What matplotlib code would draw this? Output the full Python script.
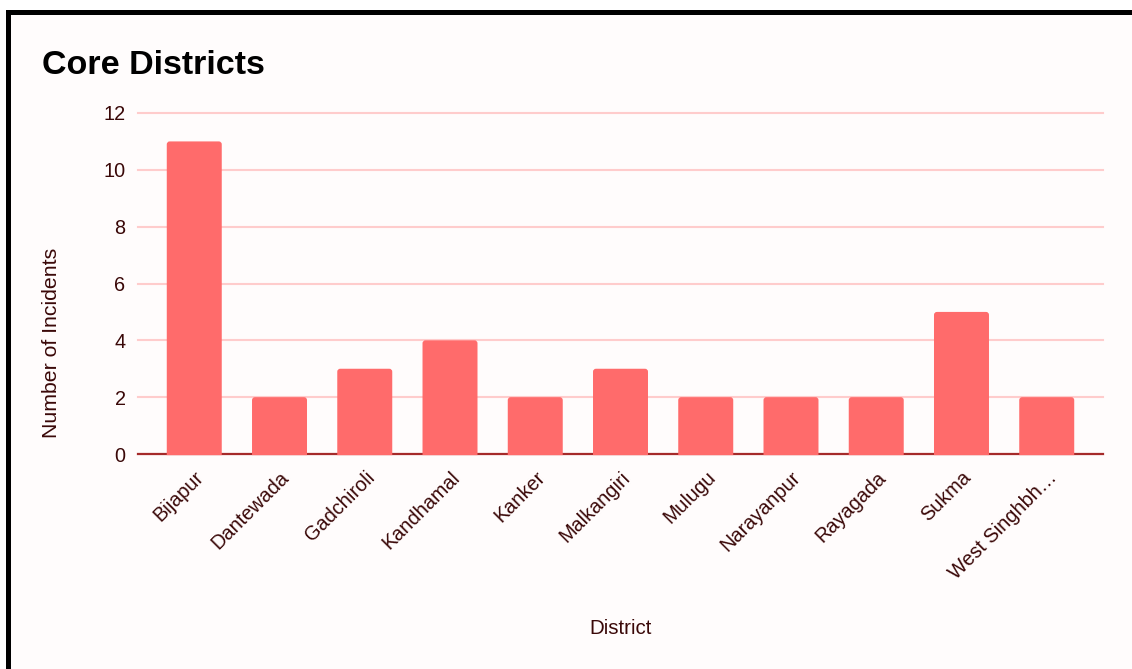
import matplotlib
matplotlib.use('Agg')
import matplotlib.pyplot as plt
from matplotlib.patches import Rectangle, PathPatch
from matplotlib.path import Path

# Data
districts = ['Bijapur', 'Dantewada', 'Gadchiroli', 'Kandhamal', 'Kanker', 'Malkangiri',
             'Mulugu', 'Narayanpur', 'Rayagada', 'Sukma', 'West Singhbh…']
incidents = [11, 2, 3, 4, 2, 3, 2, 2, 2, 5, 2]
y_ticks = [0, 2, 4, 6, 8, 10, 12]

plt.rcParams['font.family'] = ['Liberation Sans', 'DejaVu Sans']
text_color = '#3a0808'
bar_color = '#ff6b6b'
bg = '#fffcfc'

fig = plt.figure(figsize=(11.32, 6.69), dpi=100)
fig.patch.set_facecolor('white')

# Frame background and black border (top and left)
W, H = 1132, 669
fig.patches.append(Rectangle((6 / W, 0), 1 - 6 / W, (H - 10) / H, transform=fig.transFigure,
                             facecolor=bg, edgecolor='none', zorder=-2))
fig.patches.append(Rectangle((6 / W, (H - 15) / H), 1 - 6 / W, 5 / H, transform=fig.transFigure,
                             facecolor='black', edgecolor='none', zorder=-1))
fig.patches.append(Rectangle((6 / W, 0), 5 / W, (H - 10) / H, transform=fig.transFigure,
                             facecolor='black', edgecolor='none', zorder=-1))

ax = fig.add_axes([138 / W, 1 - 454 / H, (1103 - 138) / W, (454 - 113) / H])
ax.set_zorder(2)
ax.set_facecolor('none')

x = list(range(len(districts)))
bars = ax.bar(x, incidents, width=0.645, color=bar_color, zorder=3)

# redraw bars with slightly rounded top corners
rx = 0.035
ry = rx * 3.0
for b in bars:
    b.set_visible(False)
    x0, w, h = b.get_x(), b.get_width(), b.get_height()
    x1 = x0 + w
    verts = [(x0, -0.04), (x0, h - ry), (x0, h), (x0 + rx, h), (x1 - rx, h),
             (x1, h), (x1, h - ry), (x1, -0.04), (x0, -0.04)]
    codes = [Path.MOVETO, Path.LINETO, Path.CURVE3, Path.CURVE3, Path.LINETO,
             Path.CURVE3, Path.CURVE3, Path.LINETO, Path.CLOSEPOLY]
    ax.add_patch(PathPatch(Path(verts, codes), facecolor=bar_color,
                           edgecolor='none', zorder=3, clip_on=False))

ax.set_xlim(-0.66, len(districts) - 1 + 0.66)
ax.set_ylim(0, 12)
ax.set_yticks(y_ticks)
ax.set_yticklabels([str(v) for v in y_ticks])
ax.yaxis.grid(True, color='#ffcccc', linewidth=1.5, zorder=0)
for gl in ax.get_ygridlines():
    gl.set_clip_on(False)
ax.set_axisbelow(True)
ax.axhline(0, color='#a52a2a', linewidth=1.6, zorder=2, clip_on=False)

for s in ax.spines.values():
    s.set_visible(False)
ax.tick_params(axis='both', length=0, labelsize=14.3, colors=text_color)
ax.tick_params(axis='y', pad=9)
ax.set_xticks(x)
ax.set_xticklabels(districts, rotation=45, ha='right', rotation_mode='anchor')
ax.tick_params(axis='x', pad=10)

fig.text(52 / W, 1 - 343 / H, 'Number of Incidents', fontsize=15.3, color=text_color,
         ha='center', va='center', rotation=90)
fig.text(621 / W, 1 - 628 / H, 'District', fontsize=14.8, color=text_color,
         ha='center', va='center')
fig.text(42 / W, 1 - 65 / H, 'Core Districts', fontsize=24.5, fontweight='bold',
         color='black', ha='left', va='center')

fig.savefig('out.png', dpi=100, facecolor=fig.get_facecolor())
